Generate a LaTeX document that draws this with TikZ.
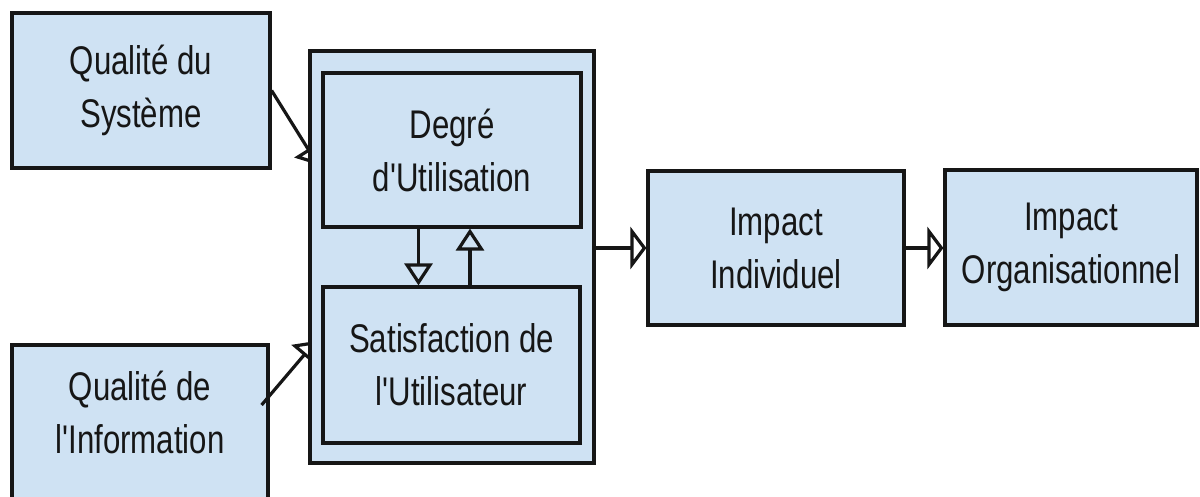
\documentclass[tikz,border=0pt]{standalone}
\usepackage{fontspec}
\newfontfamily\diagfont[FakeStretch=0.78]{Liberation Sans}
\usetikzlibrary{arrows.meta}
\definecolor{boxfill}{RGB}{207,226,243}
\definecolor{ink}{RGB}{22,22,22}
\tikzset{
  box/.style={draw=ink, line width=3.2pt, fill=boxfill, rectangle, inner sep=0pt},
  txt/.style={text=ink, align=center, font=\diagfont\fontsize{40}{53}\selectfont},
  link/.style={draw=ink, line width=3.2pt},
  hhead/.style={link, -{Triangle[open, length=16pt, width=42pt]}},
  vhead/.style={link, -{Triangle[open, length=22pt, width=28pt]}},
  dhead/.style={link, -{Triangle[open, length=19pt, width=32pt]}}
}
\begin{document}
\begin{tikzpicture}[x=1pt, y=-1pt]
\useasboundingbox (0,0) rectangle (1200,497);
\fill[white] (0,0) rectangle (1200,497);

% the two quality inputs on the left
\node[box, txt, minimum width=258pt, minimum height=155pt] (qs) at (141,90.5)
  {Qualité du\\Système};
\node[box, minimum width=256pt, minimum height=156pt] (qi) at (140,423) {};
\node[txt] (qitext) at (140,412) {Qualité de\\l'Information};

% inputs feeding the use / satisfaction block
\coordinate (qsend) at (318,165);
\coordinate (qiend) at (316,341);
\draw[dhead] (qs.east) -- (qsend);
\draw[dhead] ([xshift=-8pt, yshift=18pt]qi.east) -- (qiend);

% use / satisfaction block
\node[box, minimum width=284pt, minimum height=412pt] (outer) at (452,257) {};
\node[box, txt, minimum width=258pt, minimum height=154pt] (du) at (452,150)
  {Degré\\d'Utilisation};
\node[box, txt, minimum width=257pt, minimum height=156pt] (sat) at (451.5,365)
  {Satisfaction de\\l'Utilisateur};
\draw[vhead] ([xshift=-33.5pt]du.south) -- ([xshift=-33pt]sat.north);
\draw[vhead] ([xshift=18.5pt]sat.north) -- ([xshift=18pt]du.south);

% impacts
\node[box, txt, minimum width=256pt, minimum height=154pt] (ii) at (776,248)
  {Impact\\Individuel};
\node[box, txt, minimum width=252pt, minimum height=155pt] (io) at (1071,247.5)
  {Impact\\Organisationnel};
\draw[hhead] (outer.east |- ii.west) -- (ii.west);
\draw[hhead] (ii.east) -- (io.west |- ii.east);
\end{tikzpicture}
\end{document}
